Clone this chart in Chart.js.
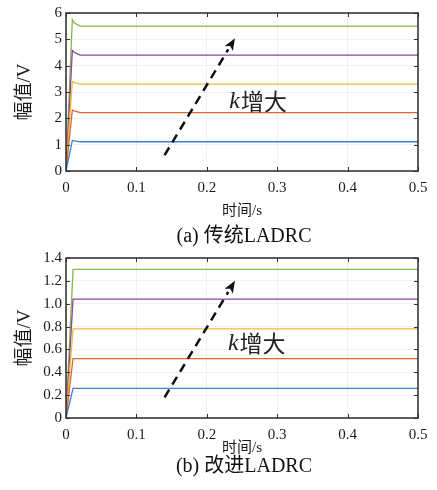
<!DOCTYPE html>
<html>
<head>
<meta charset="utf-8">
<script src="https://cdn.jsdelivr.net/npm/chart.js@4/dist/chart.umd.min.js"></script>
<style>
body { margin: 0; background: #fff; width: 437px; height: 490px; position: relative; overflow: hidden; }
.caixa { position: absolute; left: 0; width: 437px; height: 245px; }
.legenda { position: absolute; left: 66px; width: 356px; text-align: center; line-height: 22px;
  font-family: "Liberation Serif", "Noto Sans CJK SC", serif; font-size: 20px; color: #111; }
</style>
</head>
<body>
<div class="caixa" style="top:0"><canvas id="grafico1" width="437" height="245"></canvas></div>
<div class="caixa" style="top:245px"><canvas id="grafico2" width="437" height="245"></canvas></div>
<div class="legenda" style="top:224px">(a) 传统LADRC</div>
<div class="legenda" style="top:454px">(b) 改进LADRC</div>
<script>
// tempo (s)
const tempoA = [0, 0.009, 0.012, 0.02, 0.5];
const tempoB = [0, 0.01, 0.5];

// (a) traditional LADRC, amplitude (V)
const azulA = [0, 1.16, 1.14, 1.11, 1.11];
const vermelhoA = [0, 2.32, 2.28, 2.22, 2.22];
const amareloA = [0, 3.40, 3.36, 3.30, 3.30];
const roxoA = [0, 4.58, 4.50, 4.40, 4.40];
const verdeA = [0, 5.75, 5.62, 5.50, 5.50];

// (b) improved LADRC
const azulB = [0, 0.26, 0.26];
const vermelhoB = [0, 0.52, 0.52];
const amareloB = [0, 0.78, 0.78];
const roxoB = [0, 1.04, 1.04];
const verdeB = [0, 1.30, 1.30];

const ticksX = [0, 0.1, 0.2, 0.3, 0.4, 0.5];
const ticksYA = [0, 1, 2, 3, 4, 5, 6];
const ticksYB = [0, 0.2, 0.4, 0.6, 0.8, 1.0, 1.2, 1.4];

const cores = ["#3a7fd0", "#e0642e", "#efbb3a", "#8a45a0", "#86b84a"];

const fonteSerif = "'Liberation Serif', 'Noto Sans CJK SC', serif";

function pontos(tempo, valores) {
  return tempo.map((t, i) => ({ x: t, y: valores[i] }));
}

function anotacao(seta, texto) {
  return {
    id: "anotacao",
    afterDraw(chart) {
      const c = chart.ctx;
      const a = chart.chartArea;
      const sx = chart.scales.x;
      const sy = chart.scales.y;

      c.save();
      // inner ticks
      c.strokeStyle = "#333";
      c.lineWidth = 1;
      sx.ticks.forEach(t => {
        const px = Math.round(sx.getPixelForValue(t.value)) + 0.5;
        c.beginPath();
        c.moveTo(px, a.bottom); c.lineTo(px, a.bottom - 4);
        c.moveTo(px, a.top); c.lineTo(px, a.top + 4);
        c.stroke();
      });
      sy.ticks.forEach(t => {
        const py = Math.round(sy.getPixelForValue(t.value)) + 0.5;
        c.beginPath();
        c.moveTo(a.left, py); c.lineTo(a.left + 4, py);
        c.moveTo(a.right, py); c.lineTo(a.right - 4, py);
        c.stroke();
      });

      // frame
      c.lineWidth = 1.5;
      c.strokeStyle = "#2b2b2b";
      c.strokeRect(a.left, a.top, a.right - a.left, a.bottom - a.top);

      // dashed arrow
      const x0 = sx.getPixelForValue(seta[0]);
      const y0 = sy.getPixelForValue(seta[1]);
      const x1 = sx.getPixelForValue(seta[2]);
      const y1 = sy.getPixelForValue(seta[3]);
      const ang = Math.atan2(y1 - y0, x1 - x0);
      const cab = 13;
      c.strokeStyle = "#111";
      c.fillStyle = "#111";
      c.lineWidth = 2.5;
      c.setLineDash([9, 6]);
      c.beginPath();
      c.moveTo(x0, y0);
      c.lineTo(x1 - cab * Math.cos(ang), y1 - cab * Math.sin(ang));
      c.stroke();
      c.setLineDash([]);
      c.beginPath();
      c.moveTo(x1, y1);
      c.lineTo(x1 - cab * Math.cos(ang - 0.38), y1 - cab * Math.sin(ang - 0.38));
      c.lineTo(x1 - cab * 0.7 * Math.cos(ang), y1 - cab * 0.7 * Math.sin(ang));
      c.lineTo(x1 - cab * Math.cos(ang + 0.38), y1 - cab * Math.sin(ang + 0.38));
      c.closePath();
      c.fill();

      // "k增大"
      const tx = sx.getPixelForValue(texto[0]);
      const ty = sy.getPixelForValue(texto[1]);
      c.textBaseline = "middle";
      c.textAlign = "left";
      c.fillStyle = "#222";
      c.font = "italic 24px 'Liberation Serif', serif";
      c.fillText("k", tx, ty);
      const wk = c.measureText("k").width;
      c.font = "23px 'Noto Sans CJK SC', sans-serif";
      c.fillText("增大", tx + wk + 1, ty);
      c.restore();
    }
  };
}

function montar(id, tempo, series, ticksY, alturaX, tituloPad, fundo, seta, texto) {
  const ctx = document.getElementById(id);
  const casas = ticksY[1] < 1 ? 1 : 0;
  return new Chart(ctx, {
    type: "line",
    data: {
      datasets: series.map((s, i) => ({
        data: pontos(tempo, s),
        borderColor: cores[i],
        borderWidth: 1.3,
        pointRadius: 0,
        tension: 0,
        fill: false
      }))
    },
    options: {
      responsive: false,
      animation: false,
      layout: { padding: { top: 9, right: 19, left: 0, bottom: fundo } },
      plugins: { legend: { display: false }, tooltip: { enabled: false } },
      scales: {
        x: {
          type: "linear",
          min: ticksX[0],
          max: ticksX[ticksX.length - 1],
          afterBuildTicks: s => { s.ticks = ticksX.map(v => ({ value: v })); },
          afterFit: s => { s.height = alturaX; },
          grid: { color: "#f1f1f1", drawTicks: false },
          border: { display: false },
          ticks: {
            padding: 8,
            maxRotation: 0,
            autoSkip: false,
            color: "#1a1a1a",
            font: { family: fonteSerif, size: 15 },
            callback: v => v === 0 ? "0" : v.toFixed(1)
          },
          title: {
            display: true,
            text: "时间/s",
            color: "#1a1a1a",
            font: { family: fonteSerif, size: 15 },
            padding: { top: 0, bottom: tituloPad }
          }
        },
        y: {
          min: ticksY[0],
          max: ticksY[ticksY.length - 1],
          afterBuildTicks: s => { s.ticks = ticksY.map(v => ({ value: v })); },
          afterFit: s => { s.width = 66; },
          grid: { color: "#f1f1f1", drawTicks: false },
          border: { display: false },
          ticks: {
            padding: 4,
            autoSkip: false,
            color: "#1a1a1a",
            font: { family: fonteSerif, size: 15 },
            callback: v => v === 0 ? "0" : v.toFixed(casas)
          },
          title: {
            display: true,
            text: "幅值/V",
            color: "#1a1a1a",
            font: { family: fonteSerif, size: 19 },
            padding: { top: 14, bottom: 0 }
          }
        }
      }
    },
    plugins: [anotacao(seta, texto)]
  });
}

montar("grafico1", tempoA, [azulA, vermelhoA, amareloA, roxoA, verdeA], ticksYA,
  52, 3, 22, [0.14, 0.6, 0.24, 5.04], [0.232, 2.63]);

montar("grafico2", tempoB, [azulB, vermelhoB, amareloB, roxoB, verdeB], ticksYB,
  42, 3, 30, [0.14, 0.18, 0.24, 1.2], [0.23, 0.65]);
</script>
</body>
</html>
